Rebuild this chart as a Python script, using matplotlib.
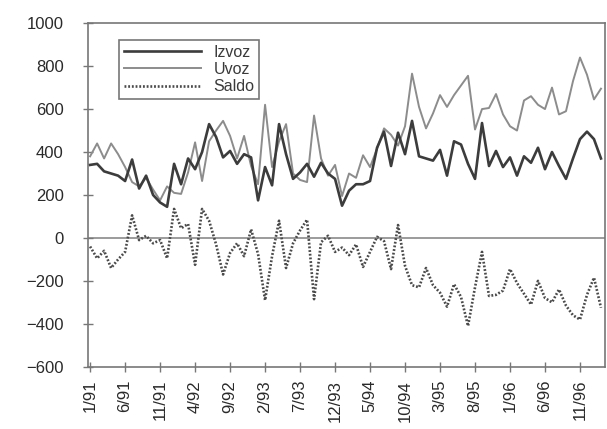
import numpy as np
import matplotlib
matplotlib.use("Agg")
import matplotlib.pyplot as plt

plt.rcParams['font.family'] = ['Liberation Sans', 'DejaVu Sans']

# monthly values, 1/91 .. 2/97
izvoz = [340, 345, 310, 300, 290, 265, 365, 230, 290, 200, 165, 145, 345, 250, 370, 320, 400, 530,
         470, 375, 405, 345, 390, 375, 175, 330, 245, 530, 390, 275, 305, 345, 285, 350, 300, 275,
         150, 220, 250, 250, 265, 420, 495, 335, 490, 390, 545, 380, 370, 360, 410, 290, 450, 435,
         345, 275, 535, 335, 405, 330, 375, 290, 380, 350, 420, 320, 400, 335, 275, 370, 460, 495,
         460, 370]
uvoz = [380, 440, 370, 440, 390, 330, 260, 240, 280, 225, 175, 240, 210, 205, 305, 445, 265, 450,
        500, 545, 475, 370, 475, 335, 250, 620, 330, 450, 530, 300, 270, 260, 570, 370, 290, 340,
        195, 300, 280, 385, 330, 415, 510, 480, 430, 520, 765, 610, 510, 580, 665, 610, 665, 710,
        755, 505, 600, 605, 670, 575, 520, 500, 640, 660, 620, 600, 700, 575, 590, 730, 840, 760,
        645, 695]
saldo = [-40, -95, -60, -140, -100, -65, 105, -10, 10, -25, -10, -95, 135, 45, 65, -125, 135, 80,
         -30, -170, -70, -25, -85, 40, -75, -290, -85, 80, -140, -25, 35, 85, -285, -20, 10, -65,
         -45, -80, -30, -135, -65, 5, -15, -145, 60, -130, -220, -230, -140, -220, -255, -320, -215, -275,
         -410, -230, -65, -270, -265, -245, -145, -210, -260, -310, -200, -280, -300, -240, -315, -360, -380, -265,
         -185, -325]

tick_labels = ["1/91", "6/91", "11/91", "4/92", "9/92", "2/93", "7/93", "12/93",
               "5/94", "10/94", "3/95", "8/95", "1/96", "6/96", "11/96"]
tick_pos = np.arange(0, 75, 5)
months = np.arange(len(izvoz))

fig = plt.figure(figsize=(6.07, 4.29), dpi=100)
ax = fig.add_axes([0.145, 0.145, 0.852, 0.801])

ax.axhline(0, color="#8a8a8a", lw=1.2, zorder=1)
ax.plot(months, izvoz, color="#3c3c3c", lw=1.9, label="Izvoz", zorder=3)
ax.plot(months, uvoz, color="#8c8c8c", lw=1.4, label="Uvoz", zorder=2)
ax.plot(months, saldo, color="#4a4a4a", lw=1.9, linestyle=(0, (0.7, 0.7)), label="Saldo", zorder=3)

ax.set_xlim(-0.3, 73.6)
ax.set_ylim(-600, 1000)
ax.set_yticks(range(-600, 1001, 200))
ax.set_xticks(tick_pos)
ax.set_xticklabels(tick_labels, rotation=90)

ax.tick_params(axis="y", direction="inout", length=7, width=1, color="#777777",
               labelsize=12, labelcolor="#2a2a2a", pad=14)
ax.tick_params(axis="x", direction="inout", length=7, width=1, color="#777777",
               labelsize=12, labelcolor="#2a2a2a", pad=6)
for s in ax.spines.values():
    s.set_color("#777777")
    s.set_linewidth(1.2)

leg = ax.legend(loc="upper left", bbox_to_anchor=(0.045, 0.975), fontsize=11.5,
                handlelength=4.8, fancybox=False, framealpha=1, edgecolor="#777777",
                borderpad=0.3, labelspacing=0.15, handletextpad=0.8)
leg.get_frame().set_linewidth(1.2)
for t in leg.get_texts():
    t.set_color("#3a3a3a")

fig.savefig("out.png", dpi=100)
